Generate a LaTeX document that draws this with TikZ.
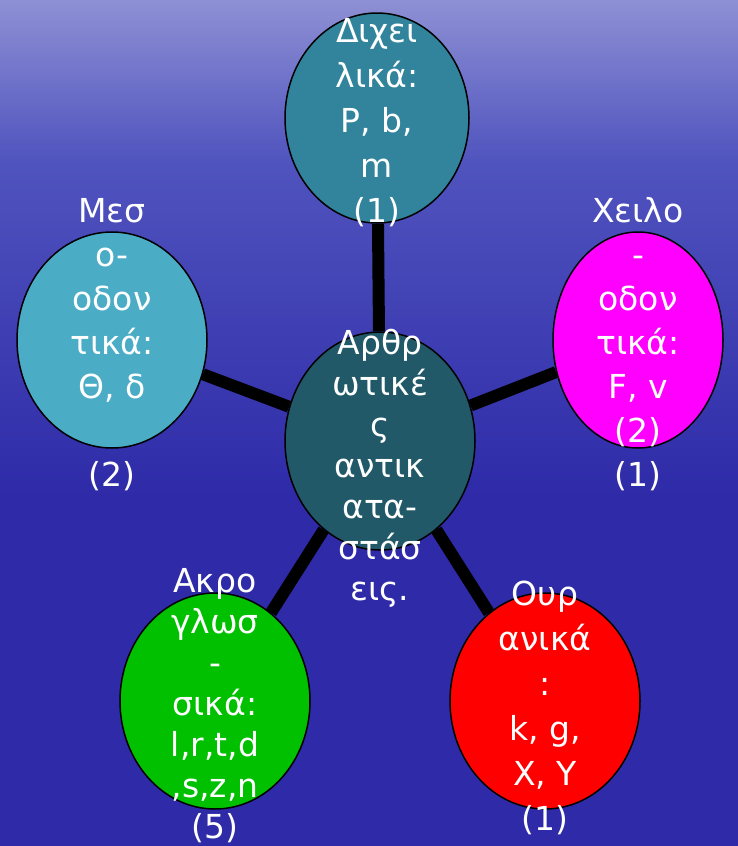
\documentclass[tikz,border=0pt]{standalone}
\usepackage{fontspec}
\setmainfont{DejaVu Sans}
\usepackage{xcolor}
\usepackage{tikz}
\definecolor{BgTop}{RGB}{142,144,212}
\definecolor{BgMid}{RGB}{80,84,190}
\definecolor{BgLow}{RGB}{46,42,168}
\definecolor{DarkTeal}{RGB}{33,89,104}
\definecolor{Teal}{RGB}{49,132,155}
\definecolor{LightTeal}{RGB}{75,172,198}
\definecolor{Magenta}{RGB}{255,0,255}
\definecolor{BrightGreen}{RGB}{0,192,0}
\definecolor{BrightRed}{RGB}{255,0,0}
\usetikzlibrary{shapes.geometric}

\begin{document}
\begin{tikzpicture}[x=1pt,y=-1pt,
        blob/.style={ellipse,draw=black,line width=1.5pt,inner sep=0pt,minimum width=190pt,minimum height=216pt},
        words/.style={text=white,align=center,anchor=base,inner sep=0pt,font=\fontsize{33}{44}\selectfont},
        spoke/.style={line width=12pt}]
            \useasboundingbox (0,0) rectangle (738,846);

            % Draw the background
            \fill[top color=BgTop,bottom color=BgMid] (0,0) rectangle (738,160);
            \fill[top color=BgMid,bottom color=BgLow] (0,160) rectangle (738,500);
            \fill[BgLow] (0,500) rectangle (738,846);

            % Draw the ellipses
            \node[blob,fill=DarkTeal,minimum height=218pt] (artic) at (380,441) {};
            \node[blob,fill=Teal,minimum width=184pt,minimum height=210pt] (bilab) at (377,118) {};
            \node[blob,fill=LightTeal] (dental) at (112,340) {};
            \node[blob,fill=Magenta,minimum width=170pt] (labio) at (638,340) {};
            \node[blob,fill=BrightGreen] (apical) at (215,701) {};
            \node[blob,fill=BrightRed] (velar) at (545,701) {};

            % Draw the spokes from the centre
            \foreach \outer in {bilab, dental, labio, apical, velar}{
                \draw[spoke] (artic) -- (\outer);
            }

            % Draw the texts (placed by the baseline of their last line)
            \node[words,font=\fontsize{33}{41}\selectfont] (t-artic) at (380,600) {Αρθρ\\ωτικέ\\ς\\αντικ\\ατα-\\στάσ\\εις.};
            \node[words,font=\fontsize{33}{45}\selectfont] (t-bilab) at (377,222) {Διχει\\λικά:\\P, b,\\m\\(1)};
            \node[words] (t-dental) at (112,486) {Μεσ\\ο-\\οδον\\τικά:\\Θ, δ\\[44pt](2)};
            \node[words] (t-labio) at (638,486) {Χειλο\\-\\οδον\\τικά:\\F, v\\(2)\\(1)};
            \node[words,font=\fontsize{33}{41}\selectfont] (t-apical) at (215,838) {Ακρο\\γλωσ\\-\\σικά:\\l,r,t,d\\,s,z,n\\(5)};
            \node[words,font=\fontsize{33}{45}\selectfont] (t-velar) at (545,830) {Ουρ\\ανικά\\:\\k, g,\\Χ, Υ\\(1)};
        \end{tikzpicture}
\end{document}
